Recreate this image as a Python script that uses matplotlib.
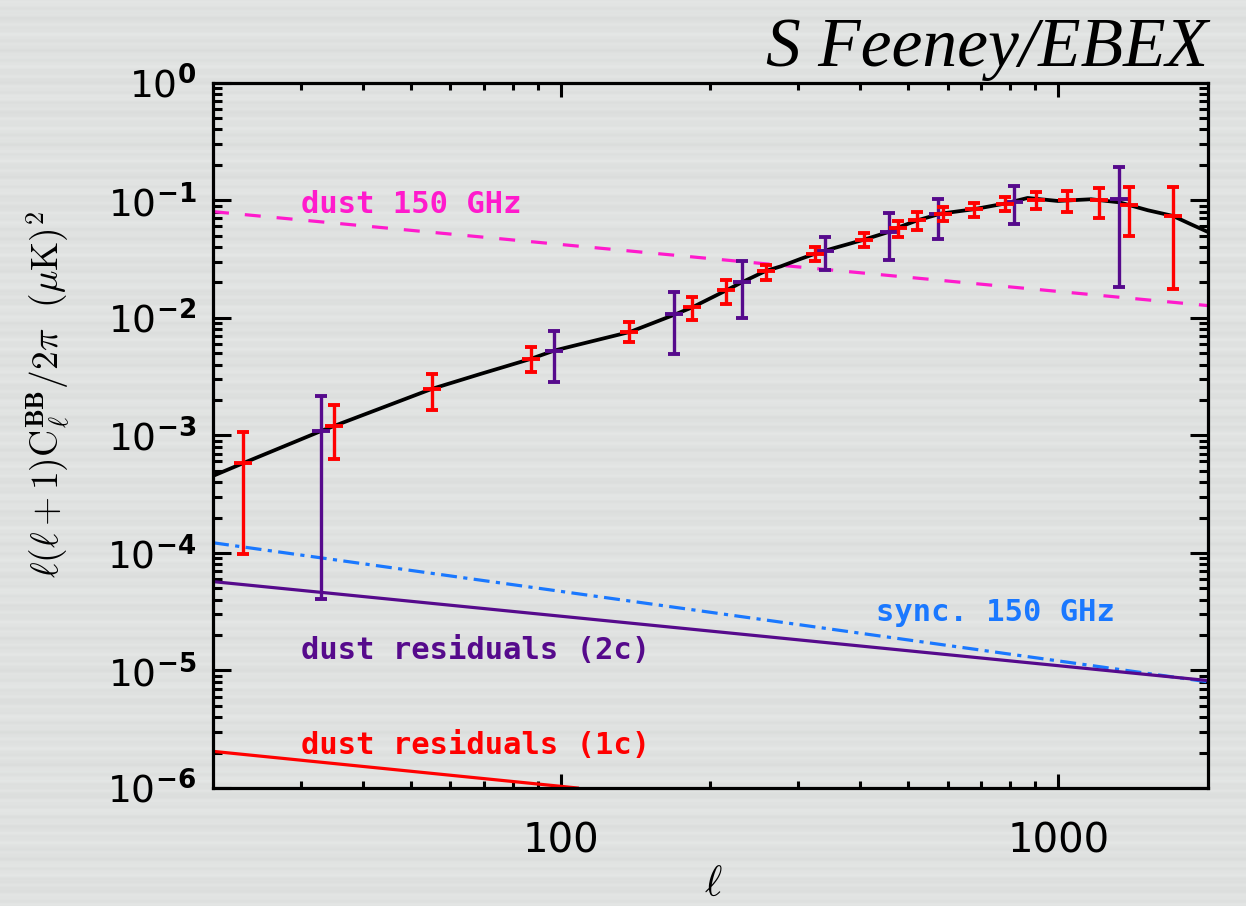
import numpy as np
import matplotlib
matplotlib.use("Agg")
import matplotlib.pyplot as plt
from matplotlib.ticker import FixedLocator, FuncFormatter, NullFormatter

# ---------------- data ----------------
# theory BB spectrum (lensing + primordial)
theory_ell = [20, 23, 33, 35, 55, 69, 87, 97, 138, 169, 184, 215, 231, 258, 277,
              304, 324, 340, 407, 456, 476, 521, 581, 676, 781, 868, 998, 1164,
              1327, 1514, 1700, 1849, 2000]
theory_cl = [4.52e-4, 5.8e-4, 1.09e-3, 1.2e-3, 2.48e-3, 3.33e-3, 4.47e-3, 5.26e-3,
             7.6e-3, 1.06e-2, 1.23e-2, 1.71e-2, 2.0e-2, 2.5e-2, 2.74e-2, 3.18e-2,
             3.5e-2, 3.73e-2, 4.62e-2, 5.37e-2, 5.85e-2, 6.75e-2, 7.7e-2, 8.38e-2,
             9.37e-2, 0.1046, 0.0986, 0.102, 0.096, 0.0822, 0.0736, 0.0624, 0.0537]

# foreground power laws (end points)
fg_ell = [20, 2000]
dust_150 = [0.08, 0.0127]
sync_150 = [1.22e-4, 8.0e-6]
dust_res_2c = [5.7e-5, 8.2e-6]
dust_res_1c_ell = [20, 108]
dust_res_1c = [2.05e-6, 1.0e-6]

# band powers, one-component case (red)
red_ell = [23, 35, 55, 87, 137, 184, 215, 258, 324, 407, 476, 521, 586, 676,
           781, 902, 1042, 1206, 1389, 1699]
red_val = [5.8e-4, 1.21e-3, 2.48e-3, 4.47e-3, 7.54e-3, 1.23e-2, 1.71e-2, 2.50e-2,
           3.50e-2, 4.62e-2, 5.85e-2, 6.75e-2, 7.70e-2, 8.38e-2, 9.37e-2, 0.1014,
           0.100, 0.100, 9.07e-2, 7.35e-2]
red_hi = [1.06e-3, 1.80e-3, 3.33e-3, 5.61e-3, 9.17e-3, 1.50e-2, 2.11e-2, 2.79e-2,
          4.00e-2, 5.26e-2, 6.66e-2, 7.95e-2, 8.77e-2, 9.56e-2, 0.1067, 0.1177,
          0.120, 0.127, 0.130, 0.130]
red_lo = [9.7e-5, 6.28e-4, 1.65e-3, 3.44e-3, 6.19e-3, 9.62e-3, 1.30e-2, 2.08e-2,
          3.02e-2, 4.00e-2, 4.86e-2, 5.55e-2, 6.66e-2, 7.21e-2, 8.05e-2, 8.50e-2,
          7.95e-2, 7.12e-2, 4.93e-2, 1.77e-2]

# band powers, two-component case (purple)
purple_ell = [33, 97, 169, 231, 340, 456, 574, 814, 1327]
purple_val = [1.09e-3, 5.26e-3, 1.07e-2, 2.01e-2, 3.73e-2, 5.37e-2, 7.70e-2,
              9.67e-2, 0.1034]
purple_hi = [2.15e-3, 7.69e-3, 1.65e-2, 3.02e-2, 4.89e-2, 7.79e-2, 0.1034,
             0.1324, 0.190]
purple_lo = [4.02e-5, 2.86e-3, 4.93e-3, 9.93e-3, 2.57e-2, 3.12e-2, 4.72e-2,
             6.24e-2, 1.82e-2]

# tick positions
x_major = [100, 1000]
x_minor = [30, 40, 50, 60, 70, 80, 90, 200, 300, 400, 500, 600, 700, 800, 900]
y_major = [1e-6, 1e-5, 1e-4, 1e-3, 1e-2, 1e-1, 1e0]

# ---------------- style ----------------
RED = "#ff0000"
PURPLE = "#560a8c"
MAGENTA = "#ff1acc"
BLUE = "#1a78ff"

plt.rcParams["mathtext.fontset"] = "dejavusans"

W, H = 1246, 906
fig = plt.figure(figsize=(W / 100, H / 100), dpi=100)

# striped grey backdrop
yy = np.arange(H)
shade = (0.0 + 0.010 * np.sin(2 * np.pi * yy / 10.5)
         + 0.006 * np.sin(2 * np.pi * yy / 31.0 + 1.0)
         + 0.004 * np.sin(2 * np.pi * yy / 4.7 + 0.5))
base = np.array([0.878, 0.886, 0.882])
bg = np.clip(base[None, None, :] + shade[:, None, None], 0, 1)
bg = np.repeat(bg, W, axis=1)
fig.figimage(bg, xo=0, yo=0, origin="upper", zorder=-10)

left, right, top, bottom = 213, 1208, 82.7, 788
ax = fig.add_axes([left / W, 1 - bottom / H, (right - left) / W, (bottom - top) / H])
ax.set_zorder(5)
ax.patch.set_alpha(0)
ax.set_xscale("log")
ax.set_yscale("log")
ax.set_xlim(20, 2000)
ax.set_ylim(1e-6, 1.0)

# foregrounds
ax.plot(fg_ell, dust_150, color=MAGENTA, lw=2.3, dashes=(5, 5))
ax.plot(fg_ell, sync_150, color=BLUE, lw=2.3, dashes=(5, 2, 1.3, 2))
ax.plot(fg_ell, dust_res_2c, color=PURPLE, lw=2.3)
ax.plot(dust_res_1c_ell, dust_res_1c, color=RED, lw=2.3)

# theory
ax.plot(theory_ell, theory_cl, color="black", lw=2.7, zorder=3)


def draw_points(ell, val, lo, hi, color):
    ell = np.asarray(ell)
    val = np.asarray(val)
    yerr = np.vstack([val - np.asarray(lo), np.asarray(hi) - val])
    ax.errorbar(ell, val, yerr=yerr, fmt="none", ecolor=color, elinewidth=2.4,
                capsize=4, capthick=2.8, zorder=4)
    ax.plot(ell, val, ls="none", marker="_", ms=12.5, mew=2.8, color=color, zorder=4)


draw_points(purple_ell, purple_val, purple_lo, purple_hi, PURPLE)
draw_points(red_ell, red_val, red_lo, red_hi, RED)

# text labels
lab_font = dict(family="DejaVu Sans Mono", fontweight="bold", fontsize=22)
ax.text(30, 0.0775, "dust 150 GHz", color=MAGENTA, va="baseline", **lab_font)
ax.text(430, 2.63e-5, "sync. 150 GHz", color=BLUE, va="baseline", **lab_font)
ax.text(30, 1.25e-5, "dust residuals (2c)", color=PURPLE, va="baseline", **lab_font)
ax.text(30, 1.93e-6, "dust residuals (1c)", color=RED, va="baseline", **lab_font)

# axes, ticks
for s in ax.spines.values():
    s.set_linewidth(2.3)
ax.xaxis.set_major_locator(FixedLocator(x_major))
ax.xaxis.set_minor_locator(FixedLocator(x_minor))
ax.yaxis.set_major_locator(FixedLocator(y_major))
y_minor = [m * d for d in y_major[:-1] for m in range(2, 10)]
ax.yaxis.set_minor_locator(FixedLocator(y_minor))
ax.xaxis.set_major_formatter(FuncFormatter(lambda v, p: f"{int(round(v))}"))
ax.xaxis.set_minor_formatter(NullFormatter())
ax.yaxis.set_major_formatter(
    FuncFormatter(lambda v, p: r"$10^{\mathbf{%d}}$" % int(round(np.log10(v)))))
ax.yaxis.set_minor_formatter(NullFormatter())

ax.tick_params(axis="both", which="both", direction="in", top=True, right=True,
               width=2.2, colors="black")
ax.tick_params(axis="y", which="major", length=13, pad=12, labelsize=27)
ax.tick_params(axis="y", which="minor", length=6.5)
ax.tick_params(axis="x", which="major", length=10, pad=24, labelsize=29)
ax.tick_params(axis="x", which="minor", length=5)
for t in ax.get_xticklabels() + ax.get_yticklabels():
    t.set_fontfamily("DejaVu Sans")

# axis titles
fig.text(48 / W, 1 - 395 / H,
         r"$\ell(\ell+1)\mathrm{C}_\ell^{\mathbf{BB}}/2\pi\ \ (\mu\mathrm{K})^2$",
         rotation=90, ha="center", va="center", fontsize=27,
         math_fontfamily="cm")
fig.text(713 / W, 1 - 884 / H, r"$\ell$", ha="center", va="center",
         fontsize=30, math_fontfamily="cm")

# credit
fig.text(1208 / W, 1 - 66 / H, "S Feeney/EBEX", ha="right", va="baseline",
         fontsize=50, family="Liberation Serif", style="italic")

fig.savefig("out.png", dpi=100)
